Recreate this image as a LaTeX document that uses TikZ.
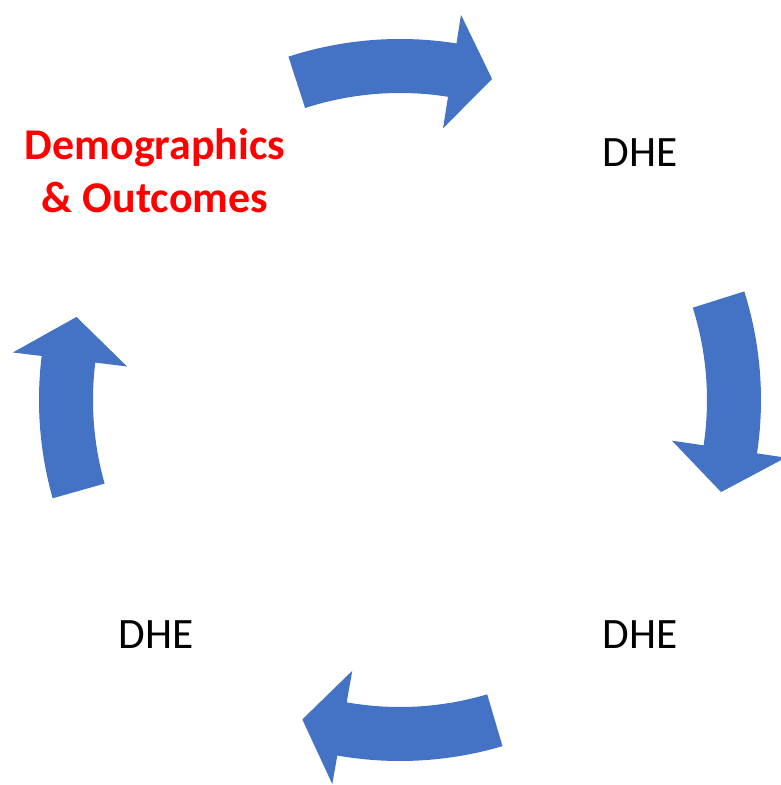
\documentclass[tikz,border=0pt]{standalone}
\usepackage{fontspec}
\setmainfont{Carlito}
\definecolor{arrowblue}{HTML}{4472C4}
\begin{document}
\begin{tikzpicture}[scale=0.03, every node/.style={font=\fontsize{37}{46}\selectfont, align=center, anchor=base}, cyclearrow/.style={fill=arrowblue, draw=none}]
	\useasboundingbox (-400,-385) rectangle (380,400);
	\node[text=red, font=\fontsize{37.5}{46}\selectfont\bfseries] (dem) at (-245,187) {Demographics\\\& Outcomes};
	\node (dheA) at (240,233) {DHE};
	\node (dheB) at (240,-248) {DHE};
	\node (dheC) at (-244,-248) {DHE};
	\foreach \t/\h/\p in {108/81/74, 17.5/-8.5/-16, -73.5/-100/-107, 195.8/173/165.6}
		\fill[cyclearrow] (\t:361) arc[start angle=\t, end angle=\h, radius=361] -- (\h:390) -- (\p:334) -- (\h:275) -- (\h:307) arc[start angle=\h, end angle=\t, radius=307] -- cycle;
\end{tikzpicture}
\end{document}
